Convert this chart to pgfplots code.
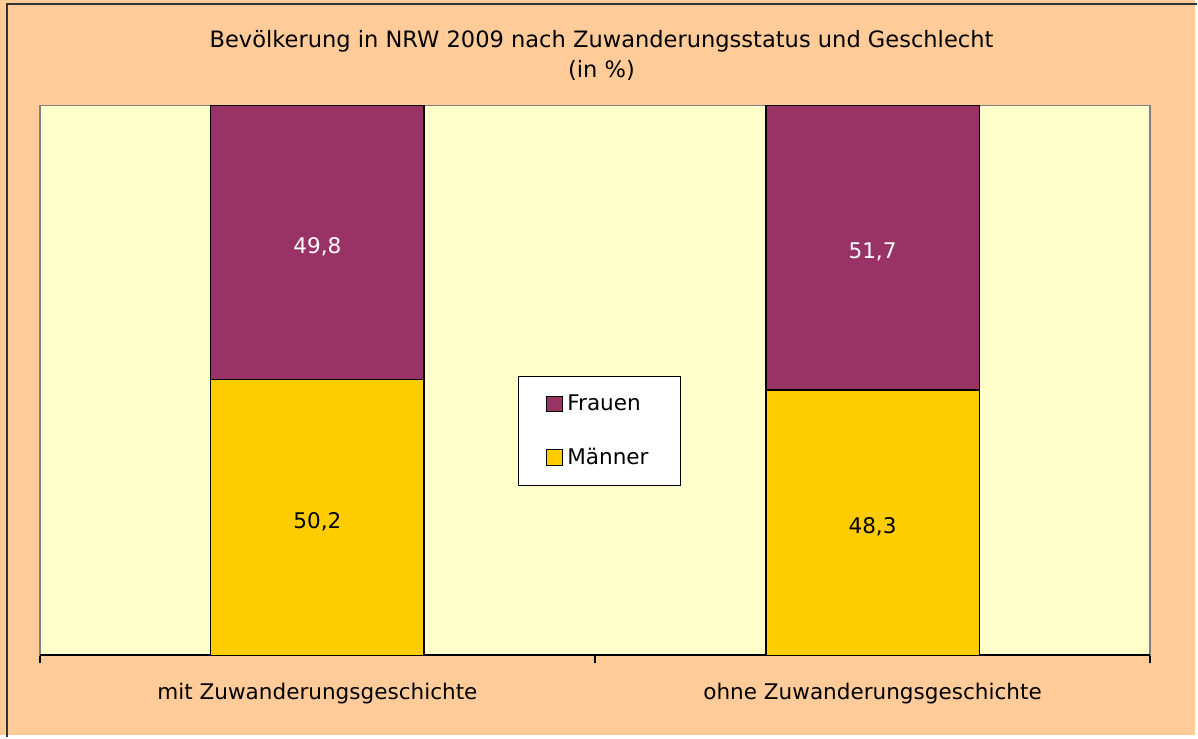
\documentclass[border=0pt]{standalone}
\usepackage{pgfplots}
\pgfplotsset{compat=1.18}
\usepackage{pgfplotstable}
\usepackage{fontspec}
\setmainfont{DejaVu Sans}

\definecolor{chartbg}{RGB}{255,204,153}
\definecolor{plotbg}{RGB}{255,255,204}
\definecolor{frauen}{RGB}{153,51,102}
\definecolor{maenner}{RGB}{255,204,0}

% Anteile in %
\pgfplotstableread{
x M F
0 50.2 49.8
1 48.3 51.7
}\bevtable

\begin{document}
\begin{tikzpicture}[font=\fontsize{10.8}{12}\selectfont]
\fill[chartbg] (0,0) rectangle (599pt,368.5pt);
\draw[line width=1pt, black!80] (3.5pt,-1pt) -- (3.5pt,366.5pt) -- (600pt,366.5pt);
\node[align=center, font=\fontsize{11.3}{15}\selectfont] at (301.5pt,340.5pt)
  {Bevölkerung in NRW 2009 nach Zuwanderungsstatus und Geschlecht\\(in \%)};

\begin{axis}[
  at={(20pt,40pt)}, anchor=south west,
  scale only axis, width=556.5pt, height=275.5pt,
  xmin=-0.5, xmax=1.5, ymin=0, ymax=100,
  ybar stacked, bar width=107pt,
  axis background/.style={fill=plotbg},
  axis line style={draw=gray, line width=0.75pt},
  ytick=\empty,
  xtick={-0.5,0.5,1.5}, xticklabels={},
  xtick pos=bottom, xtick align=outside,
  major tick length=4pt,
  tick style={black, line width=0.8pt},
  extra x ticks={0,1},
  extra x tick labels={mit Zuwanderungsgeschichte, ohne Zuwanderungsgeschichte},
  extra x tick style={major tick length=0pt, tick label style={yshift=-10.5pt}},
  point meta=explicit,
  nodes near coords={\pgfmathprintnumber[fixed, fixed zerofill, precision=1, use comma,
    assume math mode=true]{\pgfplotspointmeta}},
  every node near coord/.append style={anchor=center, yshift=-2pt},
  legend style={at={(0.504,0.408)}, anchor=center, draw=black, fill=white,
    line width=0.5pt, inner xsep=14pt, inner ysep=7pt, row sep=13.5pt},
  legend cell align=left,
  reverse legend,
  legend image code/.code={\draw[#1, draw=black, line width=0.5pt] (0pt,-4pt) rectangle (8pt,4pt);},
]
\addplot[fill=maenner, draw=black, line width=0.7pt,
  every node near coord/.append style={text=black}]
  table[x=x, y=M, meta=M] {\bevtable};
\addplot[fill=frauen, draw=black, line width=0.7pt,
  every node near coord/.append style={text=white}]
  table[x=x, y=F, meta=F] {\bevtable};
\legend{Männer, Frauen}
\draw[black, line width=1pt] (rel axis cs:0,0) -- (rel axis cs:1,0);
\end{axis}
\end{tikzpicture}
\end{document}
